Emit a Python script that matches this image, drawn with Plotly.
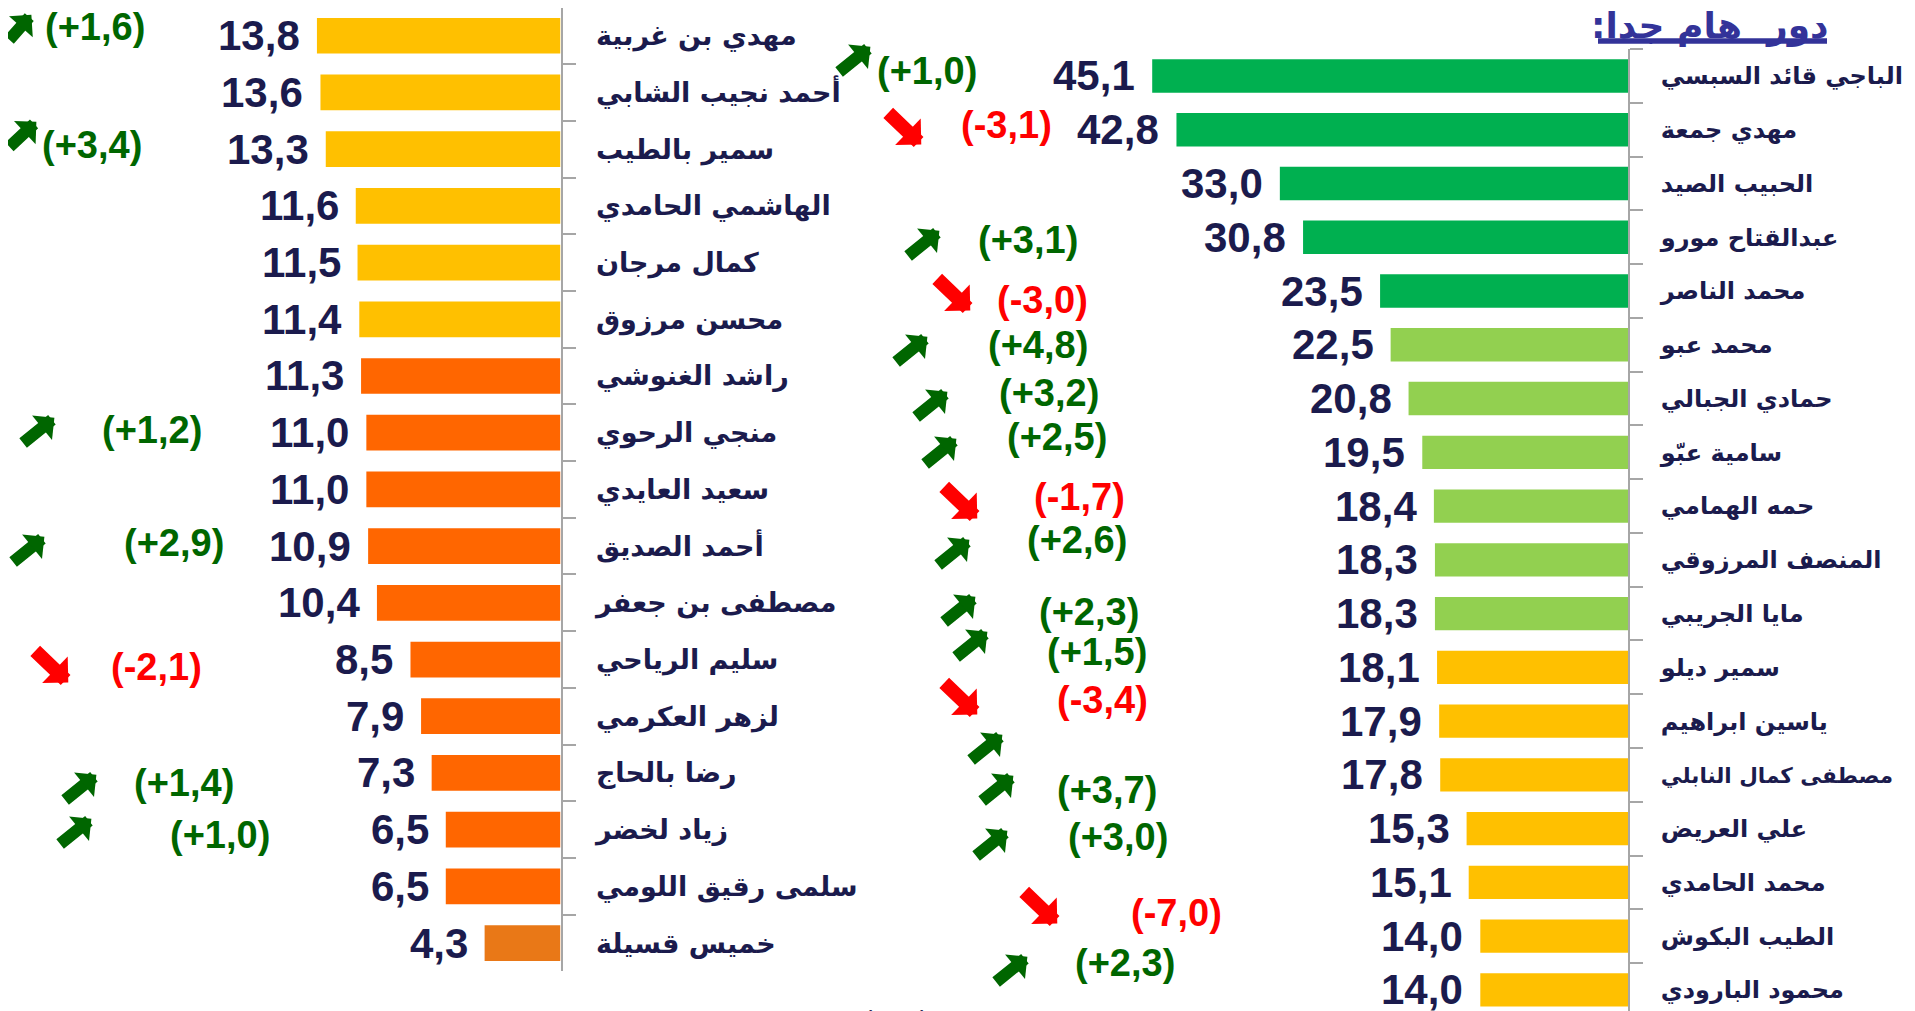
import plotly.graph_objects as go

# the page keeps the browser's 8px body margin, so the figure is sized to sit
# inside the 1915x1011 window and every position below is given in page pixels
OFF = 8
FW, FH = 1915 - 2 * OFF, 1011 - OFF

# ── data ─────────────────────────────────────────────
left_names = ["مهدي بن غربية", "أحمد نجيب الشابي", "سمير بالطيب", "الهاشمي الحامدي",
              "كمال مرجان", "محسن مرزوق", "راشد الغنوشي", "منجي الرحوي", "سعيد العايدي",
              "أحمد الصديق", "مصطفى بن جعفر", "سليم الرياحي", "لزهر العكرمي", "رضا بالحاج",
              "زياد لخضر", "سلمى رقيق اللومي", "خميس قسيلة"]
left_values = [13.8, 13.6, 13.3, 11.6, 11.5, 11.4, 11.3, 11.0, 11.0, 10.9, 10.4,
               8.5, 7.9, 7.3, 6.5, 6.5, 4.3]
left_change = ["+1,6", None, "+3,4", None, None, None, None, "+1,2", None, "+2,9",
               None, "-2,1", None, "+1,4", "+1,0", None, None]

right_names = ["الباجي قائد السبسي", "مهدي جمعة", "الحبيب الصيد", "عبدالقتاح مورو",
               "محمد الناصر", "محمد عبو", "حمادي الجبالي", "سامية عبّو", "حمه الهمامي",
               "المنصف المرزوقي", "مايا الجريبي", "سمير ديلو", "ياسين ابراهيم",
               "مصطفى كمال النابلي", "علي العريض", "محمد الحامدي", "الطيب البكوش",
               "محمود البارودي"]
right_values = [45.1, 42.8, 33.0, 30.8, 23.5, 22.5, 20.8, 19.5, 18.4, 18.3, 18.3,
                18.1, 17.9, 17.8, 15.3, 15.1, 14.0, 14.0]
right_change = ["+1,0", "-3,1", None, "+3,1", "-3,0", "+4,8", "+3,2", "+2,5", "-1,7",
                "+2,6", "+2,3", "+1,5", "-3,4", "+", "+3,7", "+3,0", "-7,0", "+2,3"]

title_text = "دور  هام جدا:"

# ── styling / layout ─────────────────────────────────
YELLOW, ORANGE, ORANGE2 = "#FFC000", "#FF6600", "#E97817"
GREEN, LGREEN = "#00B050", "#92D050"
NAVY = "#1b1b4d"
UP, DOWN = "#006600", "#FF0000"
AXIS_GREY = "#a6a6a6"
TITLE_BLUE = "#333399"

left_colors = [YELLOW] * 6 + [ORANGE] * 10 + [ORANGE2]
right_colors = [GREEN] * 5 + [LGREEN] * 6 + [YELLOW] * 7

# axis position, px per unit, top / bottom of the category bands (page px)
L_AXIS, L_SCALE, L_TOP, L_BOT = 560.5, 17.65, 7.4, 971.4
R_AXIS, R_SCALE, R_TOP, R_STEP = 1628.0, 10.55, 49.1, 53.76
R_LEFT = 900.0
L_STEP = (L_BOT - L_TOP) / len(left_names)

# change-label placement in page pixels: (text_x, text_y, arrow_cx, arrow_cy)
left_pos = {0: (43, 27, 15, 28), 2: (40, 145, 20, 135), 7: (100, 430, 38, 431),
            9: (122, 543, 28, 550), 11: (109, 667, 51, 666), 13: (132, 783, 80, 788),
            14: (168, 835, 75, 832)}
right_pos = {0: (875, 71, 854, 60), 1: (959, 125, 904, 128), 3: (976, 240, 923, 244),
             4: (995, 300, 953, 294), 5: (986, 345, 911, 350), 6: (997, 393, 931, 405),
             7: (1005, 437, 940, 452), 8: (1032, 497, 960, 502), 9: (1025, 540, 953, 553),
             10: (1037, 612, 959, 610), 11: (1045, 652, 971, 645), 12: (1055, 700, 960, 698),
             13: (None, None, 986, 748), 14: (1055, 790, 997, 789), 15: (1066, 837, 991, 844),
             16: (1129, 913, 1040, 907), 17: (1073, 963, 1011, 970)}

L_NAME_FONT = dict(family="DejaVu Sans", size=27, color=NAVY, weight="bold")
R_NAME_FONT = dict(family="DejaVu Sans", size=24, color=NAVY, weight="bold")
VAL_FONT = dict(family="Arial, Liberation Sans", size=42, color=NAVY, weight="bold")
CHG_FONT = dict(family="Arial, Liberation Sans", size=38, weight="bold")


def fx(p):
    return (p - OFF) / FW


def fy(p):
    return 1 - (p - OFF) / FH


def fmt(v):
    return f"{v:.1f}".replace(".", ",")


fig = go.Figure()
fig.add_trace(go.Bar(x=left_values, y=left_names, orientation="h", width=0.63,
                     marker=dict(color=left_colors, line_width=0),
                     xaxis="x", yaxis="y", hoverinfo="skip", showlegend=False))
fig.add_trace(go.Bar(x=right_values, y=right_names, orientation="h", width=0.62,
                     marker=dict(color=right_colors, line_width=0),
                     xaxis="x2", yaxis="y2", hoverinfo="skip", showlegend=False))

annotations = []

# value labels next to bar ends
for names, vals, xr, yr in [(left_names, left_values, "x", "y"),
                            (right_names, right_values, "x2", "y2")]:
    for n, v in zip(names, vals):
        annotations.append(dict(x=v, y=n, xref=xr, yref=yr, text=fmt(v),
                                showarrow=False, xanchor="right", yanchor="middle",
                                xshift=-15, font=VAL_FONT))

# change labels and block arrows
for changes, pos in [(left_change, left_pos), (right_change, right_pos)]:
    for i, ch in enumerate(changes):
        if ch is None:
            continue
        tx, ty, acx, acy = pos[i]
        up = ch.startswith("+")
        col = UP if up else DOWN
        if len(ch) > 1:
            annotations.append(dict(x=fx(tx), y=fy(ty), xref="paper", yref="paper",
                                    text=f"({ch})", showarrow=False, xanchor="left",
                                    yanchor="middle", font=dict(CHG_FONT, color=col)))
        if up:
            dx, dy, L, aw = 0.78, -0.63, 42, 12
        else:
            dx, dy, L, aw = 0.72, 0.69, 48, 14
        tipx, tipy = acx + dx * L / 2, acy + dy * L / 2
        annotations.append(dict(x=fx(tipx), y=fy(tipy), xref="paper", yref="paper",
                                text="", showarrow=True, ax=-dx * L, ay=-dy * L,
                                arrowcolor=col, arrowwidth=aw, arrowhead=1,
                                arrowsize=0.44, standoff=0, startstandoff=0,
                                font=dict(size=1)))

# heading with a thick underline
annotations.append(dict(x=fx(1831), y=fy(49), xref="paper", yref="paper",
                        text=title_text + "\u200f", showarrow=False,
                        xanchor="right", yanchor="bottom",
                        font=dict(family="DejaVu Sans", size=36, color=TITLE_BLUE,
                                  weight="bold")))
shapes = [dict(type="line", xref="paper", yref="paper", x0=fx(1598), x1=fx(1827),
               y0=fy(41), y1=fy(41), line=dict(color=TITLE_BLUE, width=5.5))]

# tops of a footer line that falls below the window
for fxp in (870, 921):
    annotations.append(dict(x=fx(fxp), y=fy(1003), xref="paper", yref="paper",
                            text="ء", showarrow=False, xanchor="center",
                            yanchor="top", font=dict(family="DejaVu Sans", size=11,
                                                     color=NAVY)))

# long name shown a little smaller so it stays inside the window
right_ticktext = [f'<span style="font-size:21.5px">{n}</span>' if n == "مصطفى كمال النابلي"
                  else n for n in right_names]

yaxis_common = dict(side="right", showline=True, linecolor=AXIS_GREY, linewidth=2,
                    ticks="outside", ticklen=13, tickwidth=2, tickcolor=AXIS_GREY,
                    tickson="boundaries", showgrid=False, zeroline=False,
                    type="category")

l_top = max(L_TOP, OFF)
fig.update_layout(
    width=FW, height=FH,
    margin=dict(l=0, r=0, t=0, b=0),
    paper_bgcolor="white", plot_bgcolor="white",
    xaxis=dict(domain=[0, fx(L_AXIS)], range=[(L_AXIS - OFF) / L_SCALE, 0],
               visible=False, anchor="y"),
    yaxis=dict(domain=[fy(L_BOT), fy(l_top)], anchor="x",
               categoryorder="array", categoryarray=left_names,
               range=[len(left_names) - 0.5, -0.5 + (l_top - L_TOP) / L_STEP],
               tickfont=L_NAME_FONT, ticklabelstandoff=28, **yaxis_common),
    xaxis2=dict(domain=[fx(R_LEFT), fx(R_AXIS)], range=[(R_AXIS - R_LEFT) / R_SCALE, 0],
                visible=False, anchor="y2"),
    yaxis2=dict(domain=[0, fy(R_TOP)], anchor="x2",
                categoryorder="array", categoryarray=right_names,
                tickmode="array", tickvals=right_names, ticktext=right_ticktext,
                range=[-0.5 + (FH + OFF - R_TOP) / R_STEP, -0.5],
                tickfont=R_NAME_FONT, ticklabelstandoff=26, **yaxis_common),
    annotations=annotations,
    shapes=shapes,
)

fig.write_html("out.html")
